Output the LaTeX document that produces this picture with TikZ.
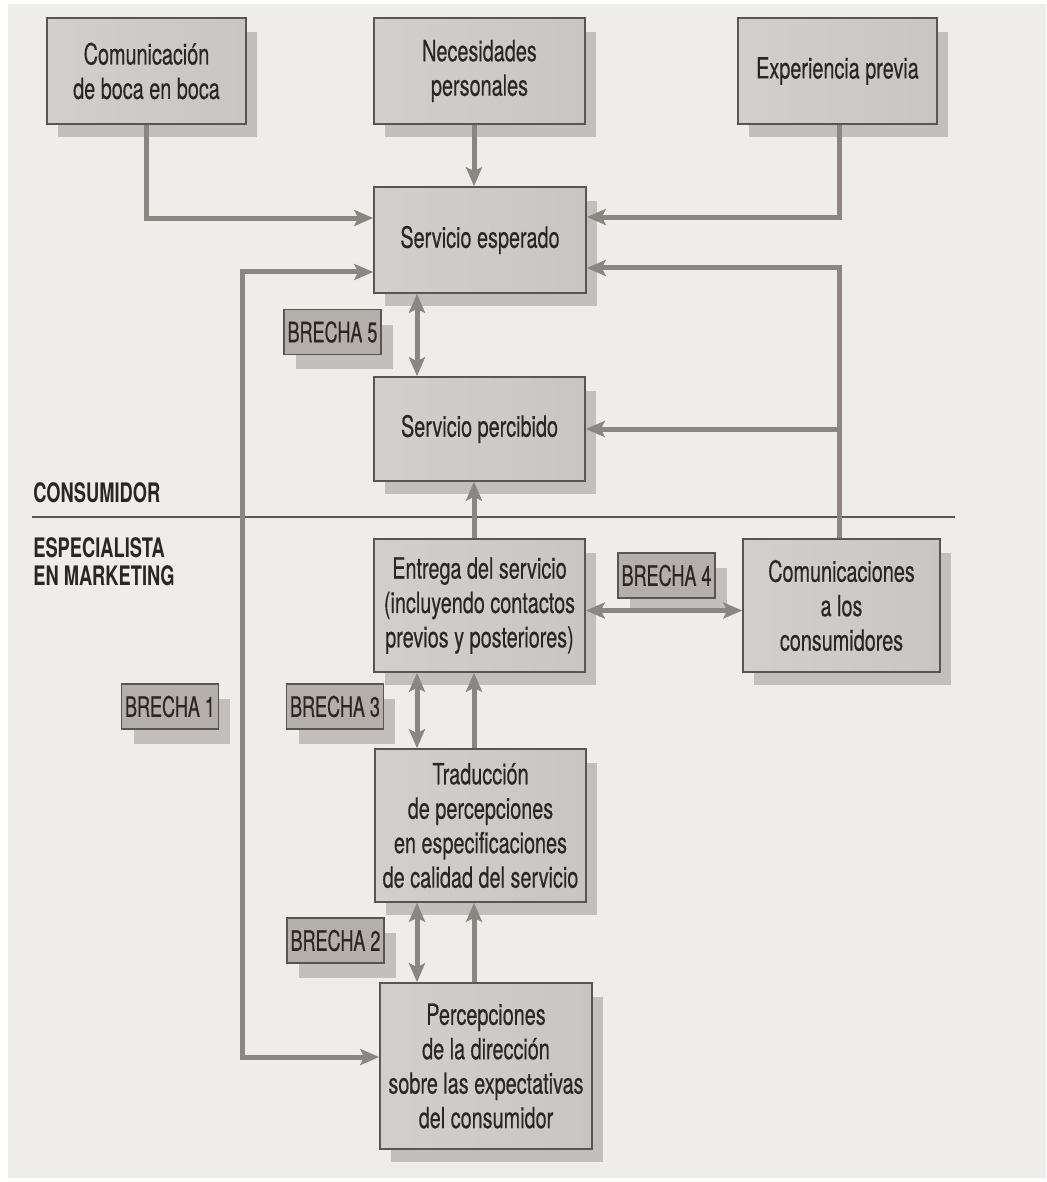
\documentclass[tikz,border=0pt]{standalone}
\usepackage{fontspec}
\setmainfont{TeX Gyre Heros}[FakeStretch=0.68, UprightFeatures={FakeBold=0.35}]
\newfontfamily\gapfont{TeX Gyre Heros}[FakeStretch=0.64, FakeBold=0.35]
\usetikzlibrary{arrows.meta,shadows}

\definecolor{bgpanel}{HTML}{EFEDEA}
\definecolor{boxfill}{HTML}{C9C5C3}
\definecolor{boxlight}{HTML}{D3CFCD}
\definecolor{boxline}{HTML}{5A5553}
\definecolor{shadowgray}{HTML}{C3BFBC}
\definecolor{gapfill}{HTML}{B5AFAC}
\definecolor{arrowgray}{HTML}{8C8683}
\definecolor{textdark}{HTML}{2A2624}

\begin{document}
\begin{tikzpicture}[x=0.02cm, y=-0.02cm,
    box/.style={
        draw=boxline,
        line width=0.9pt,
        left color=boxlight,
        right color=boxfill,
        drop shadow={shadow xshift=0.22cm, shadow yshift=-0.27cm, fill=shadowgray, opacity=1},
        inner sep=0pt,
        align=center,
        text=textdark,
        font=\fontsize{16.6pt}{19.6pt}\selectfont
    },
    gap/.style={
        draw=boxline,
        line width=0.8pt,
        fill=gapfill,
        drop shadow={shadow xshift=0.24cm, shadow yshift=-0.3cm, fill=shadowgray, opacity=1},
        minimum width=1.94cm,
        minimum height=0.9cm,
        inner sep=0pt,
        text=textdark,
        font=\fontsize{16pt}{18pt}\gapfont
    },
    side/.style={
        anchor=base west,
        inner sep=0pt,
        text=textdark,
        font=\fontsize{15.3pt}{17pt}\selectfont\bfseries
    },
    arr/.style={
        draw=arrowgray,
        line width=0.1cm,
        -{Stealth[length=0.38cm, width=0.32cm, inset=0.08cm]}
    },
    biarr/.style={
        arr,
        {Stealth[length=0.38cm, width=0.32cm, inset=0.08cm]}-{Stealth[length=0.38cm, width=0.32cm, inset=0.08cm]}
    }
]

% --- Background ---
\fill[white] (0,0) rectangle (1046,1182);
\fill[bgpanel] (8,4) rectangle (1046,1178);

% --- Top row ---
\node[box, minimum width=3.98cm, minimum height=2.12cm] (boca) at (146.5,71) {Comunicación\\de boca en boca};
\node[box, minimum width=4.22cm, minimum height=2.12cm] (necesidades) at (479.5,71) {Necesidades\\personales};
\node[box, minimum width=3.98cm, minimum height=2.12cm] (experiencia) at (837.5,71) {Experiencia previa};

% --- Consumer side ---
\node[box, minimum width=4.24cm, minimum height=2.12cm] (esperado) at (480,240) {Servicio esperado};
\node[box, minimum width=4.22cm, minimum height=2.08cm] (percibido) at (479.5,429) {Servicio percibido};

% --- Marketer side ---
\node[box, minimum width=4.22cm, minimum height=2.66cm] (entrega) at (479.5,605.5) {Entrega del servicio\\(incluyendo contactos\\previos y posteriores)};
\node[box, minimum width=3.94cm, minimum height=2.66cm] (comunic) at (841.5,605.5) {Comunicaciones\\a los\\consumidores};
\node[box, minimum width=4.22cm, minimum height=3.06cm] (traduccion) at (480.5,825.5) {Traducción\\de percepciones\\en especificaciones\\de calidad del servicio};
\node[box, minimum width=4.24cm, minimum height=3.32cm] (percepciones) at (486,1066) {Percepciones\\de la dirección\\sobre las expectativas\\del consumidor};

% --- Gaps ---
\node[gap] (brecha5) at (332.5,332) {BRECHA 5};
\node[gap] (brecha4) at (666.5,575.5) {BRECHA 4};
\node[gap] (brecha1) at (170,706.5) {BRECHA 1};
\node[gap] (brecha3) at (335,706.5) {BRECHA 3};
\node[gap] (brecha2) at (335.5,940.5) {BRECHA 2};

% --- Sides ---
\node[side] (consumidor) at (33,502) {CONSUMIDOR};
\node[side] (especialista) at (33,557) {ESPECIALISTA};
\node[side] (marketing) at (33,585) {EN MARKETING};
\draw[boxline, line width=0.03cm] (32,517) -- (955,517);

% --- Connectors ---
\coordinate (gapx) at (417,0);
\coordinate (upx) at (474,0);
\coordinate (rightx) at (839,0);
\coordinate (loopx) at (242,700);

\draw[arr] (boca.south) |- ([yshift=0.44cm]esperado.west);
\draw[arr] (necesidades.south -| upx) -- (esperado.north -| upx);
\draw[arr] (experiencia.south -| rightx) |- ([yshift=0.46cm]esperado.east);
\draw[arr] (comunic.north -| rightx) |- ([yshift=-0.56cm]esperado.east);
\draw[arr] (percibido.east -| rightx) -- (percibido.east);
\draw[biarr] ([yshift=-0.64cm]esperado.west) -| (loopx) |- ([yshift=0.18cm]percepciones.west);
\draw[biarr] (esperado.south -| gapx) -- (percibido.north -| gapx);
\draw[arr] (entrega.north -| upx) -- (percibido.south -| upx);
\draw[biarr] ([yshift=-0.1cm]entrega.east) -- ([yshift=-0.1cm]comunic.west);
\draw[biarr] (entrega.south -| gapx) -- (traduccion.north -| gapx);
\draw[arr] (traduccion.north -| upx) -- (entrega.south -| upx);
\draw[biarr] (traduccion.south -| gapx) -- (percepciones.north -| gapx);
\draw[arr] (percepciones.north -| upx) -- (traduccion.south -| upx);

\end{tikzpicture}
\end{document}
